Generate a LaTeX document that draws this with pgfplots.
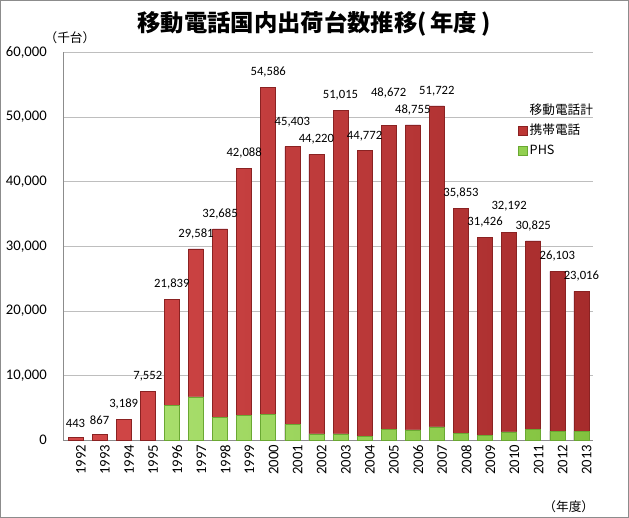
\documentclass[border=0pt]{standalone}
\usepackage{fontspec}
\usepackage{pgfplots}
\pgfplotsset{compat=1.18}
\setmainfont{Carlito}
\newfontfamily\jp{Noto Sans CJK JP}

\definecolor{keitai}{HTML}{BC3634}
\definecolor{keitaiL}{HTML}{D44848}
\definecolor{keitaiR}{HTML}{A62C2C}
\definecolor{keitaiedge}{HTML}{8A2222}
\definecolor{phs}{HTML}{92D050}
\definecolor{phsL}{HTML}{A8DE6C}
\definecolor{phsR}{HTML}{82C23E}
\definecolor{phsedge}{HTML}{6AA832}
\definecolor{gridc}{HTML}{BEBEBE}
\definecolor{framec}{HTML}{8C8C8C}

% total shipments and PHS (thousand units); cellular = total - phs
% dy: extra lift of the value label (pt), so neighbours do not collide
\pgfplotstableread{
x total phs dy
0 443 0 0
1 867 0 0
2 3189 0 0
3 7552 0 0
4 21839 5400 0
5 29581 6700 0
6 32685 3500 0
7 42088 3800 0
8 54586 4000 0
9 45403 2500 6.75
10 44220 1000 0
11 51015 1000 0
12 44772 650 0
13 48672 1700 12.75
14 48755 1600 0
15 51722 2050 0
16 35853 1100 0
17 31426 700 0
18 32192 1300 8
19 30825 1650 0
20 26103 1400 0
21 23016 1400 0
}\shiptable

\begin{document}
\begin{tikzpicture}
\begin{axis}[
    name=ax,
    scale only axis,
    width=397.5pt, height=291pt,
    ybar, bar shift=0pt,
    bar width=11.25pt,
    xmin=-0.5, xmax=21.5,
    ymin=0, ymax=60000,
    ytick={0,10000,...,60000},
    xtick=data,
    xticklabels={1992,1993,1994,1995,1996,1997,1998,1999,2000,2001,2002,2003,2004,2005,2006,2007,2008,2009,2010,2011,2012,2013},
    xticklabel style={rotate=90, anchor=east, font=\fontsize{11}{13}\selectfont, yshift=-4pt},
    yticklabel style={font=\fontsize{11}{13}\selectfont, xshift=-9pt},
    /pgf/number format/.cd, 1000 sep={,}, assume math mode=true, /pgfplots/.cd,
    scaled y ticks=false,
    major tick length=0pt,
    axis lines*=left,
    axis line style={draw=framec},
    ymajorgrids,
    grid style={draw=gridc, line width=0.6pt},
    legend image code/.code={\path[#1] (0pt,-3.4pt) rectangle (6.75pt,3.4pt);},
    legend style={
        at={(rel axis cs:0.8575,0.874)}, anchor=north west,
        draw=none, fill=none, inner sep=0pt,
        font=\jp\fontsize{9.5}{11}\selectfont,
        nodes={text height=8pt, text depth=2pt, inner sep=1.5pt},
        row sep=2.25pt,
    },
    legend cell align=left,
]
\addlegendimage{draw=none, fill=none}
\addlegendentry{移動電話計}
\addlegendimage{fill=keitai, draw=keitaiedge}
\addlegendentry{携帯電話}
\addlegendimage{fill=phs, draw=phsedge}
\addlegendentry{PHS}

% full bar = total; the cellular part is what shows above PHS
\addplot+[forget plot, left color=keitaiL, right color=keitaiR, draw=keitaiedge, line width=0.4pt,
    visualization depends on={\thisrow{dy} \as \labdy},
    nodes near coords,
    every node near coord/.append style={font=\fontsize{9.5}{11}\selectfont, text=black, yshift=4pt+\labdy pt}]
    table[x=x, y=total] {\shiptable};
\addplot+[forget plot, left color=phsL, right color=phsR, draw=phsedge, line width=0.4pt,
    restrict y to domain=1:70000]
    table[x=x, y=phs] {\shiptable};
\end{axis}
\node[font=\jp\bfseries\fontsize{17.5}{20}\selectfont] at ([shift={(187.9pt,312.2pt)}]ax.south west) {移動電話国内出荷台数推移(\,年度\,)};
\node[font=\jp\fontsize{9.5}{11}\selectfont] at ([shift={(4.9pt,302.2pt)}]ax.south west) {（千台）};
\node[font=\jp\fontsize{9.5}{11}\selectfont] at ([shift={(379pt,-49.8pt)}]ax.south west) {（年度）};
\draw[framec, line width=1.1pt]
    ([shift={(-47.05pt,-57.75pt)}]ax.south west) rectangle ([shift={(26.1pt,38.65pt)}]ax.north east);
\end{tikzpicture}
\end{document}
